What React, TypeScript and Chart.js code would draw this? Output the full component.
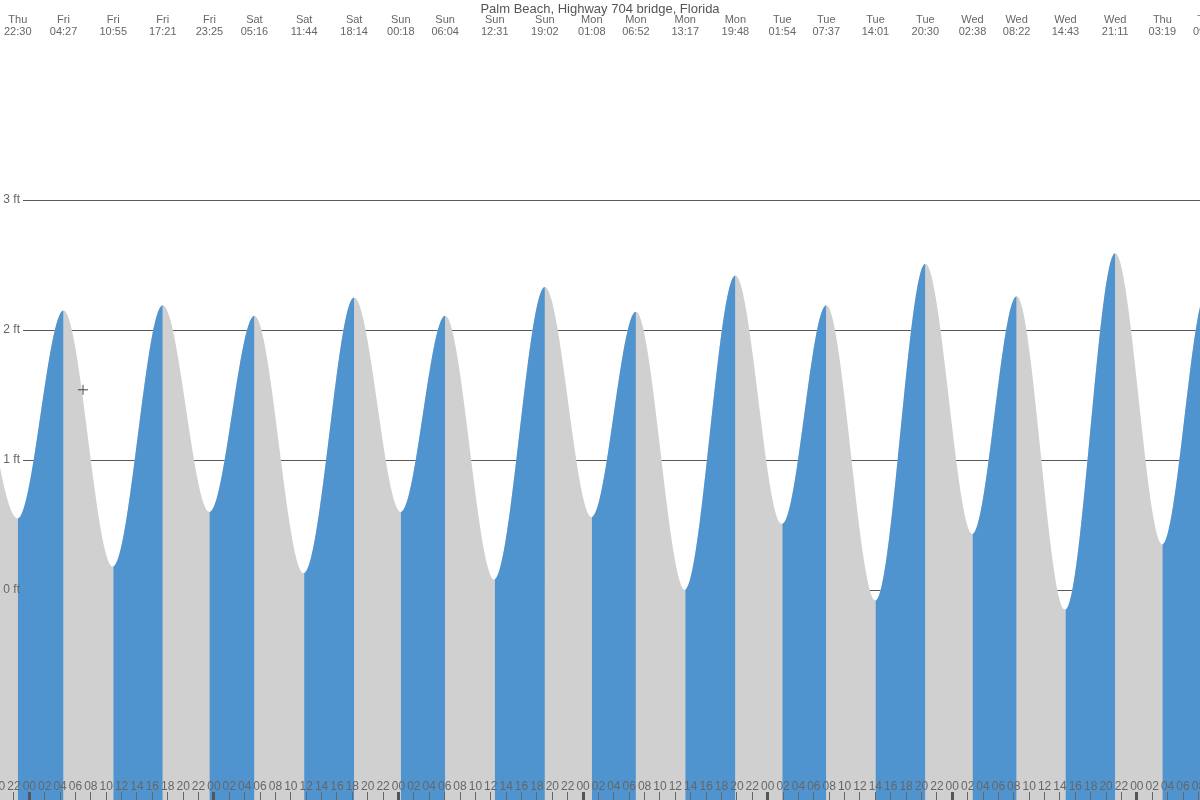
import React, { useEffect, useRef } from 'react';
import { Chart, registerables } from 'chart.js';

Chart.register(...registerables);

// ---- data ----
const extremeDays = ['Thu', 'Thu', 'Fri', 'Fri', 'Fri', 'Fri', 'Sat', 'Sat', 'Sat', 'Sun', 'Sun', 'Sun', 'Sun', 'Mon', 'Mon', 'Mon', 'Mon', 'Tue', 'Tue', 'Tue', 'Tue', 'Wed', 'Wed', 'Wed', 'Wed', 'Thu', 'Thu', 'Thu'];
const extremeTimes = ['16:35', '22:30', '04:27', '10:55', '17:21', '23:25', '05:16', '11:44', '18:14', '00:18', '06:04', '12:31', '19:02', '01:08', '06:52', '13:17', '19:48', '01:54', '07:37', '14:01', '20:30', '02:38', '08:22', '14:43', '21:11', '03:19', '09:05', '15:25'];
const extremeHeights = [2.15, 0.55, 2.15, 0.18, 2.19, 0.6, 2.11, 0.13, 2.25, 0.6, 2.11, 0.08, 2.33, 0.56, 2.14, 0.0, 2.42, 0.51, 2.19, -0.08, 2.51, 0.43, 2.26, -0.15, 2.59, 0.35, 2.3, -0.2];
const levelTicks = [0, 1, 2, 3];
const nowDay = 'Fri';
const nowTime = '06:59';
const nowHeight = 1.54;
const chartTitle = 'Palm Beach, Highway 704 bridge, Florida';

// ---- helpers ----
const dayIndex: Record<string, number> = { Thu: 0, Fri: 1, Sat: 2, Sun: 3, Mon: 4, Tue: 5, Wed: 6 };
function toHours(days: string[], times: string[]): number[] {
  let week = 0;
  let prev = -1;
  return days.map((d, i) => {
    const di = dayIndex[d];
    if (di < prev) week += 7;
    prev = di;
    const [h, m] = times[i].split(':').map(Number);
    return (di + week) * 24 + h + m / 60;
  });
}
const extremeHours = toHours(extremeDays, extremeTimes);
const nowHours = toHours([nowDay], [nowTime])[0];
const tidePoints = extremeHours.map((x, i) => ({ x, y: extremeHeights[i] }));

// view window (hours since Thu 00:00)
const X_MIN = 20.19;
const X_MAX = 176.21;
const hourTicks: number[] = [];
for (let h = 20; h <= 176; h += 2) hourTicks.push(h);

const PX_PER_FT = 130;
const TITLE_PAD_TOP = 1.5;
const TITLE_H = 13 * 1.2 + TITLE_PAD_TOP;
const Y_MIN = -210 / PX_PER_FT;
const Y_MAX = Y_MIN + (800 - TITLE_H) / PX_PER_FT;

const BLUE = '#4f94cf';
const GRAY = '#d0d0d0';
const TEXT = '#666666';
const LINE = '#5a5a5a';

const zeroPad = (s: any) => {
  s.paddingLeft = 0;
  s.paddingRight = 0;
  s.paddingTop = 0;
  s.paddingBottom = 0;
};

export default function App() {
  const ref = useRef<HTMLCanvasElement | null>(null);

  useEffect(() => {
    if (!ref.current) return;
    Chart.defaults.font.family = '"Liberation Sans", Arial, sans-serif';
    const tideBase = {
      xAxisID: 'x',
      yAxisID: 'y',
      borderWidth: 0,
      borderColor: 'rgba(0,0,0,0)',
      pointRadius: 0,
      pointHoverRadius: 0,
      cubicInterpolationMode: 'monotone',
      capBezierPoints: false,
      fill: 'start',
    };
    const chart = new Chart(ref.current, {
      type: 'line',
      data: {
        datasets: [
          {
            label: 'now',
            data: [{ x: nowHours, y: nowHeight }],
            xAxisID: 'x',
            yAxisID: 'y',
            showLine: false,
            pointStyle: 'cross',
            pointRadius: 5,
            pointBorderColor: '#444',
            pointBorderWidth: 1,
            fill: false,
            order: 0,
          } as any,
          {
            ...tideBase,
            label: 'rising',
            data: tidePoints,
            backgroundColor: 'rgba(0,0,0,0)',
            segment: {
              backgroundColor: (c: any) => (c.p1.parsed.y > c.p0.parsed.y ? BLUE : 'rgba(0,0,0,0)'),
            },
            order: 1,
          } as any,
          {
            ...tideBase,
            label: 'tide',
            data: tidePoints,
            backgroundColor: GRAY,
            order: 2,
          } as any,
        ],
      },
      options: {
        responsive: false,
        animation: false,
        events: [],
        devicePixelRatio: 1,
        layout: { padding: 0, autoPadding: false },
        plugins: {
          legend: { display: false },
          tooltip: { enabled: false },
          title: {
            display: true,
            text: chartTitle,
            color: '#555',
            font: { size: 13, weight: 'normal', lineHeight: 1.2 },
            padding: { top: TITLE_PAD_TOP, bottom: 0 },
          },
        },
        scales: {
          x: {
            type: 'linear',
            axis: 'x',
            min: X_MIN,
            max: X_MAX,
            position: { y: (590 - 792) / PX_PER_FT },
            border: { display: false, z: 1 },
            grid: {
              display: true,
              z: 1,
              drawOnChartArea: false,
              drawTicks: true,
              tickLength: 8,
              tickColor: (c: any) => (c.tick && c.tick.value % 24 === 0 ? '#555' : '#666'),
              tickWidth: (c: any) => (c.tick && c.tick.value % 24 === 0 ? 3 : 1),
            },
            ticks: {
              z: 1,
              autoSkip: false,
              maxRotation: 0,
              minRotation: 0,
              padding: -21,
              color: TEXT,
              font: { size: 12 },
              callback: (v: any) => String(Math.round(v) % 24).padStart(2, '0'),
            },
            afterBuildTicks: (s: any) => {
              s.ticks = hourTicks.map((v) => ({ value: v }));
            },
            afterFit: zeroPad,
          },
          xTop: {
            type: 'linear',
            axis: 'x',
            min: X_MIN,
            max: X_MAX,
            position: { y: (590 - 5.95) / PX_PER_FT },
            border: { display: false },
            grid: { display: false },
            ticks: {
              z: 1,
              autoSkip: false,
              maxRotation: 0,
              minRotation: 0,
              padding: 0,
              color: TEXT,
              font: { size: 11, lineHeight: 1.1 },
              callback: (_v: any, i: number) => [extremeDays[i], extremeTimes[i]],
            },
            afterBuildTicks: (s: any) => {
              s.ticks = extremeHours.map((v) => ({ value: v }));
            },
            afterFit: zeroPad,
          },
          y: {
            type: 'linear',
            axis: 'y',
            min: Y_MIN,
            max: Y_MAX,
            position: 'left',
            border: { display: false },
            grid: { color: LINE, lineWidth: 1, drawTicks: false },
            ticks: { display: false },
            afterBuildTicks: (s: any) => {
              s.ticks = levelTicks.map((v) => ({ value: v }));
            },
            afterFit: (s: any) => {
              zeroPad(s);
              s.width = 0;
            },
          },
          yL: {
            type: 'linear',
            axis: 'y',
            min: Y_MIN,
            max: Y_MAX,
            position: { x: X_MIN + 20 / 7.6917 },
            border: { display: false },
            grid: { display: false },
            ticks: {
              z: 1,
              color: TEXT,
              padding: 0,
              font: { size: 12 },
              showLabelBackdrop: (c: any) => c.tick && c.tick.value !== 0,
              backdropColor: '#ffffff',
              backdropPadding: { left: 4, right: 3, top: 1, bottom: 1 },
              callback: (v: any) => v + ' ft',
            },
            afterBuildTicks: (s: any) => {
              s.ticks = levelTicks.map((v) => ({ value: v }));
            },
            afterFit: zeroPad,
          },
        },
      } as any,
    });
    return () => chart.destroy();
  }, []);

  return (
    <div style={{ position: 'absolute', left: 0, top: 0, width: 1200, height: 800, background: '#fff' }}>
      <canvas ref={ref} width={1200} height={800} style={{ display: 'block', width: 1200, height: 800 }} />
    </div>
  );
}
